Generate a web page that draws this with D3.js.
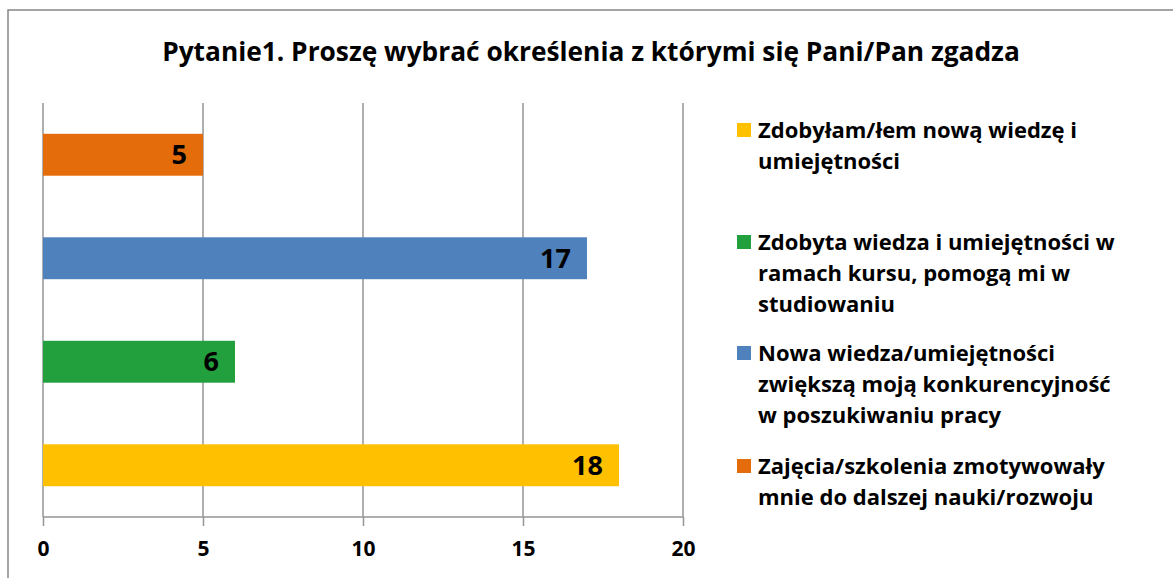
<!DOCTYPE html>
<html><head><meta charset="utf-8">
<script src="https://cdn.jsdelivr.net/npm/d3@7"></script>
<style>body{margin:0;background:#fff;}svg{display:block;font-family:"Open Sans",sans-serif;}</style>
</head><body><svg id="c" width="1173" height="578"></svg>
<script>
const title = "Pytanie1. Proszę wybrać określenia z którymi się Pani/Pan zgadza";
const categories = [
  "Zajęcia/szkolenia zmotywowały mnie do dalszej nauki/rozwoju",
  "Nowa wiedza/umiejętności zwiększą moją konkurencyjność w poszukiwaniu pracy",
  "Zdobyta wiedza i umiejętności w ramach kursu, pomogą mi w studiowaniu",
  "Zdobyłam/łem nową wiedzę i umiejętności"
];
const values = [5, 17, 6, 18];
const colors = ["#E46C0A", "#4F81BD", "#23A03E", "#FFC000"];
const legendOrder = [3, 2, 1, 0];
const legendLines = [
  ["Zdobyłam/łem nową wiedzę i", "umiejętności"],
  ["Zdobyta wiedza i umiejętności w", "ramach kursu, pomogą mi w", "studiowaniu"],
  ["Nowa wiedza/umiejętności", "zwiększą moją konkurencyjność", "w poszukiwaniu pracy"],
  ["Zajęcia/szkolenia zmotywowały", "mnie do dalszej nauki/rozwoju"]
];
const xTicks = [0, 5, 10, 15, 20];

const svg = d3.select("#c");
svg.append("rect").attr("x", 8).attr("y", 10).attr("width", 1170).attr("height", 580)
  .attr("fill", "#fff").attr("stroke", "#868686").attr("stroke-width", 1.5);

svg.append("text").attr("x", 591).attr("y", 61).attr("text-anchor", "middle")
  .attr("font-size", 26.3).attr("font-weight", 700).attr("fill", "#000").text(title);

const x = d3.scaleLinear().domain([0, 20]).range([43, 683]);
const y = d3.scaleBand().domain(d3.range(categories.length)).range([103, 517]).paddingInner(0.595).paddingOuter(0.2975);

const g = svg.append("g");
g.selectAll("line.grid").data(xTicks).join("line").attr("class", "grid")
  .attr("x1", d => x(d)).attr("x2", d => x(d)).attr("y1", 103).attr("y2", 517)
  .attr("stroke", "#959595").attr("stroke-width", 1.5);

const ax = g.append("g").attr("transform", "translate(0,517)")
  .call(d3.axisBottom(x).tickValues(xTicks).tickSize(9).tickPadding(15).tickFormat(d3.format("d")));
ax.select(".domain").attr("stroke", "#959595").attr("stroke-width", 1.5).attr("d", `M${x(0)},0H${x(20)}`);
ax.selectAll(".tick line").attr("stroke", "#959595").attr("stroke-width", 1.5);
ax.selectAll(".tick text").attr("font-size", 21).attr("font-weight", 700).attr("fill", "#000")
  .attr("font-family", "'Open Sans', sans-serif");

g.selectAll("rect.bar").data(values).join("rect").attr("class", "bar")
  .attr("x", x(0)).attr("y", (d, i) => y(i)).attr("width", d => x(d) - x(0)).attr("height", y.bandwidth())
  .attr("fill", (d, i) => colors[i]);

g.selectAll("text.lbl").data(values).join("text").attr("class", "lbl")
  .attr("x", d => x(d) - 16).attr("y", (d, i) => y(i) + y.bandwidth() / 2).attr("dy", "0.36em")
  .attr("text-anchor", "end").attr("font-size", 27).attr("font-weight", 700).attr("fill", "#000").text(d => d);

const legY = [130, 242, 353, 466];
const lg = svg.append("g");
legendOrder.forEach((ci, k) => {
  lg.append("rect").attr("x", 737).attr("y", legY[k] - 7).attr("width", 14).attr("height", 14).attr("fill", colors[ci]);
  const t = lg.append("text").attr("font-size", 22).attr("font-weight", 700).attr("fill", "#000");
  legendLines[k].forEach((ln, j) => {
    t.append("tspan").attr("x", 758).attr("y", legY[k] + j * 31).attr("dy", "0.35em").text(ln);
  });
});
</script></body></html>
